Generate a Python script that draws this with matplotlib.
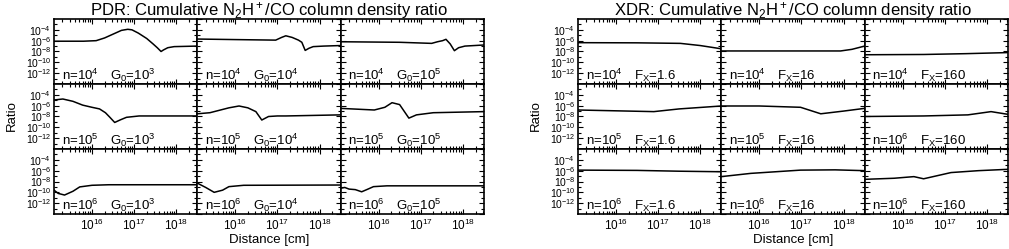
import matplotlib
matplotlib.use('Agg')
import matplotlib.pyplot as plt
from matplotlib.ticker import LogLocator, FixedLocator, NullFormatter
import numpy as np

plt.rcParams['font.family'] = ['Liberation Sans', 'DejaVu Sans']
plt.rcParams['mathtext.fontset'] = 'custom'
plt.rcParams['mathtext.rm'] = 'Liberation Sans'
plt.rcParams['mathtext.it'] = 'Liberation Sans'
plt.rcParams['mathtext.default'] = 'regular'

# log10(distance [cm]) and log10(ratio)
# PDR, n = 1e4
pdr_n4_g3_x = [15.1, 15.8, 16.1, 16.3, 16.5, 16.7, 16.85, 16.95, 17.1, 17.3, 17.45,
               17.55, 17.64, 17.7, 17.8, 17.95, 18.5]
pdr_n4_g3_y = [-6.1, -6.1, -6.0, -5.5, -4.8, -4.1, -3.9, -4.0, -4.6, -5.6, -6.6,
               -7.3, -8.0, -7.7, -7.3, -7.1, -7.0]
pdr_n4_g4_x = [15.1, 16.0, 16.96, 17.1, 17.2, 17.35, 17.5, 17.58, 17.66, 17.75, 17.85, 18.1, 18.5]
pdr_n4_g4_y = [-5.7, -5.8, -5.9, -5.4, -5.1, -5.4, -5.9, -6.3, -7.8, -7.4, -7.1, -7.0, -6.9]
pdr_n4_g5_x = [15.1, 16.5, 17.26, 17.4, 17.52, 17.6, 17.7, 17.8, 17.9, 18.05, 18.5]
pdr_n4_g5_y = [-6.2, -6.3, -6.5, -6.2, -6.0, -5.75, -6.6, -7.85, -7.3, -7.0, -6.8]
# PDR, n = 1e5
pdr_n5_g3_x = [15.1, 15.31, 15.55, 15.78, 16.0, 16.18, 16.32, 16.42, 16.54, 16.68,
               16.82, 17.12, 18.5]
pdr_n5_g3_y = [-4.95, -4.77, -5.2, -5.9, -6.3, -6.6, -7.3, -8.1, -9.1, -8.6,
               -8.15, -7.9, -7.9]
pdr_n5_g4_x = [15.1, 15.4, 15.6, 15.85, 16.09, 16.3, 16.49, 16.63, 16.79, 17.0, 17.2, 18.5]
pdr_n5_g4_y = [-7.5, -7.3, -6.9, -6.4, -6.06, -6.4, -7.1, -8.65, -8.0, -7.9, -7.9, -7.7]
pdr_n5_g5_x = [15.1, 15.9, 16.15, 16.32, 16.5, 16.72, 16.9, 17.3, 18.5]
pdr_n5_g5_y = [-6.5, -6.8, -6.3, -5.45, -5.8, -8.3, -7.7, -7.3, -7.1]
# PDR, n = 1e6
pdr_n6_g3_x = [15.1, 15.2, 15.35, 15.55, 15.71, 16.0, 16.4, 18.5]
pdr_n6_g3_y = [-9.6, -10.2, -10.5, -9.8, -9.0, -8.7, -8.6, -8.6]
pdr_n6_g4_x = [15.1, 15.3, 15.5, 15.7, 15.85, 16.2, 18.5]
pdr_n6_g4_y = [-8.3, -9.1, -10.0, -9.6, -8.95, -8.7, -8.65]
pdr_n6_g5_x = [15.1, 15.2, 15.3, 15.45, 15.6, 15.75, 15.88, 16.2, 18.5]
pdr_n6_g5_y = [-9.25, -9.1, -9.4, -9.5, -9.9, -9.4, -8.95, -8.8, -8.8]

# XDR, n = 1e4
xdr_n4_f1_x = [15.1, 16.5, 17.53, 18.0, 18.5]
xdr_n4_f1_y = [-6.37, -6.4, -6.5, -6.9, -7.5]
xdr_n4_f2_x = [15.1, 16.5, 17.93, 18.2, 18.5]
xdr_n4_f2_y = [-7.9, -7.9, -7.9, -7.6, -7.0]
xdr_n4_f3_x = [15.1, 16.5, 17.5, 18.5]
xdr_n4_f3_y = [-8.6, -8.55, -8.4, -8.2]
# XDR, n = 1e5 (third panel labelled n=1e6 in the original)
xdr_n5_f1_x = [15.1, 16.0, 16.9, 17.5, 18.5]
xdr_n5_f1_y = [-6.8, -6.95, -7.1, -6.6, -6.06]
xdr_n5_f2_x = [15.1, 16.0, 16.98, 17.46, 18.0, 18.5]
xdr_n5_f2_y = [-6.06, -6.06, -6.3, -7.5, -7.0, -6.5]
xdr_n5_f3_x = [15.1, 16.5, 17.55, 18.1, 18.5]
xdr_n5_f3_y = [-8.0, -7.9, -7.7, -7.1, -7.6]
# XDR, n = 1e6
xdr_n6_f1_x = [15.1, 16.5, 17.5, 18.5]
xdr_n6_f1_y = [-5.9, -5.95, -6.1, -6.2]
xdr_n6_f2_x = [15.1, 15.8, 16.98, 17.8, 18.5]
xdr_n6_f2_y = [-7.1, -6.5, -5.9, -5.85, -6.0]
xdr_n6_f3_x = [15.1, 15.8, 16.27, 16.5, 17.15, 17.8, 18.5]
xdr_n6_f3_y = [-7.6, -7.4, -7.1, -7.5, -6.35, -6.0, -5.75]

pdr_panels = [
    [(pdr_n4_g3_x, pdr_n4_g3_y, 'n=10$^4$', 'G$_0$=10$^3$'),
     (pdr_n4_g4_x, pdr_n4_g4_y, 'n=10$^4$', 'G$_0$=10$^4$'),
     (pdr_n4_g5_x, pdr_n4_g5_y, 'n=10$^4$', 'G$_0$=10$^5$')],
    [(pdr_n5_g3_x, pdr_n5_g3_y, 'n=10$^5$', 'G$_0$=10$^3$'),
     (pdr_n5_g4_x, pdr_n5_g4_y, 'n=10$^5$', 'G$_0$=10$^4$'),
     (pdr_n5_g5_x, pdr_n5_g5_y, 'n=10$^5$', 'G$_0$=10$^5$')],
    [(pdr_n6_g3_x, pdr_n6_g3_y, 'n=10$^6$', 'G$_0$=10$^3$'),
     (pdr_n6_g4_x, pdr_n6_g4_y, 'n=10$^6$', 'G$_0$=10$^4$'),
     (pdr_n6_g5_x, pdr_n6_g5_y, 'n=10$^6$', 'G$_0$=10$^5$')],
]
xdr_panels = [
    [(xdr_n4_f1_x, xdr_n4_f1_y, 'n=10$^4$', 'F$_X$=1.6'),
     (xdr_n4_f2_x, xdr_n4_f2_y, 'n=10$^4$', 'F$_X$=16'),
     (xdr_n4_f3_x, xdr_n4_f3_y, 'n=10$^4$', 'F$_X$=160')],
    [(xdr_n5_f1_x, xdr_n5_f1_y, 'n=10$^5$', 'F$_X$=1.6'),
     (xdr_n5_f2_x, xdr_n5_f2_y, 'n=10$^5$', 'F$_X$=16'),
     (xdr_n5_f3_x, xdr_n5_f3_y, 'n=10$^6$', 'F$_X$=160')],
    [(xdr_n6_f1_x, xdr_n6_f1_y, 'n=10$^6$', 'F$_X$=1.6'),
     (xdr_n6_f2_x, xdr_n6_f2_y, 'n=10$^6$', 'F$_X$=16'),
     (xdr_n6_f3_x, xdr_n6_f3_y, 'n=10$^6$', 'F$_X$=160')],
]

y_ticks = [1e-12, 1e-10, 1e-8, 1e-6, 1e-4]
y_ticklabels = ['$10^{-12}$', '$10^{-10}$', '$10^{-8}$', '$10^{-6}$', '$10^{-4}$']
x_ticks = [1e16, 1e17, 1e18]
x_ticklabels = ['$10^{16}$', '$10^{17}$', '$10^{18}$']

W, H = 1009, 249
fig = plt.figure(figsize=(W / 100, H / 100), dpi=100)

col_w = 143.3
row_h = 65.0
top = 19.0


def draw_grid(panels, left, title):
    for r in range(3):
        for c in range(3):
            xs, ys, lab1, lab2 = panels[r][c]
            x0 = left + c * col_w
            y0 = top + (r + 1) * row_h
            ax = fig.add_axes([x0 / W, 1 - y0 / H, col_w / W, row_h / H])
            ax.plot(10 ** np.array(xs), 10 ** np.array(ys), color='black', lw=1.1)
            ax.set_xscale('log')
            ax.set_yscale('log')
            ax.set_xlim(10 ** 15.1, 10 ** 18.5)
            ax.set_ylim(1e-14, 1e-2)
            ax.xaxis.set_major_locator(FixedLocator([1e15, 1e16, 1e17, 1e18]))
            ax.xaxis.set_minor_locator(LogLocator(base=10, subs=np.arange(2, 10)))
            ax.xaxis.set_minor_formatter(NullFormatter())
            ax.yaxis.set_major_locator(FixedLocator([1e-14, 1e-12, 1e-10, 1e-8, 1e-6, 1e-4, 1e-2]))
            ax.yaxis.set_minor_locator(FixedLocator([1e-13, 1e-11, 1e-9, 1e-7, 1e-5, 1e-3]))
            ax.yaxis.set_minor_formatter(NullFormatter())
            ax.tick_params(which='both', direction='in', top=True, right=True,
                           labelsize=7.5, pad=2, width=0.8)
            ax.tick_params(which='major', length=3.5)
            ax.tick_params(which='minor', length=2)
            if c == 0:
                ax.set_yticks(y_ticks)
                ax.set_yticklabels(y_ticklabels)
            else:
                ax.set_yticklabels([])
            if r == 2:
                ax.set_xticks(x_ticks)
                ax.set_xticklabels(x_ticklabels)
                ax.xaxis.set_minor_locator(LogLocator(base=10, subs=np.arange(2, 10)))
                ax.tick_params(axis='x', labelsize=8.5, pad=3)
            else:
                ax.set_xticklabels([])
            for s in ax.spines.values():
                s.set_linewidth(1.2)
            ax.text(0.055, 0.06, lab1, transform=ax.transAxes, fontsize=9.5)
            ax.text(0.39, 0.06, lab2, transform=ax.transAxes, fontsize=9.5)
    cx = left + 1.5 * col_w
    fig.text(cx / W, 1 - 10 / H, title, ha='center', va='center', fontsize=12)
    fig.text(cx / W, 1 - 240 / H, 'Distance [cm]', ha='center', va='center', fontsize=9.5)
    fig.text((left - 42) / W, 1 - 116 / H, 'Ratio', ha='center', va='center',
             rotation=90, fontsize=9.5)


draw_grid(pdr_panels, 54, 'PDR: Cumulative N$_2$H$^+$/CO column density ratio')
draw_grid(xdr_panels, 578, 'XDR: Cumulative N$_2$H$^+$/CO column density ratio')

fig.savefig('out.png', dpi=100)
